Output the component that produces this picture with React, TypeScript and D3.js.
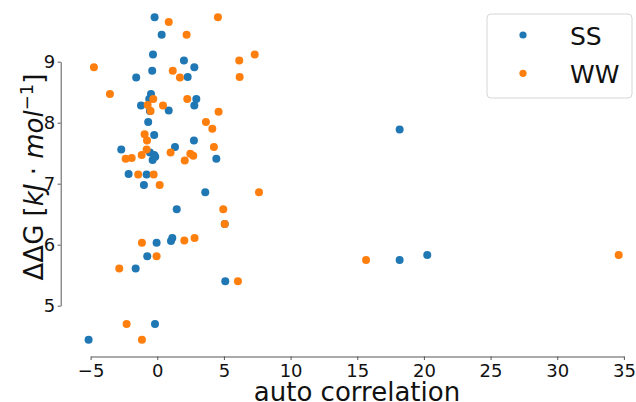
import * as d3 from 'd3';
import React, { useEffect, useRef } from 'react';

// SS series (auto correlation, ddG)
const ssX = [-0.2, 0.33, -0.32, 2.0, 2.78, -0.38, -1.58, 2.28, -0.47, -0.6, 2.93, -1.22, 2.78, -0.55, 0.86, -0.68, -0.23, 2.75, 1.33, -2.7, -0.55, -0.23, -0.35, -0.15, 4.43, -2.15, -0.8, -1.0, 3.6, 1.46, -0.05, 1.03, 1.13, -0.75, -1.62, 5.1, -0.17, -5.15, 18.18, 18.18, 20.25, 5.06];
const ssY = [9.73, 9.44, 9.12, 9.02, 8.91, 8.85, 8.74, 8.75, 8.47, 8.39, 8.39, 8.28, 8.28, 8.19, 8.2, 8.01, 7.8, 7.71, 7.6, 7.56, 7.51, 7.47, 7.39, 7.44, 7.41, 7.16, 7.15, 6.98, 6.86, 6.58, 6.03, 6.06, 6.11, 5.81, 5.61, 5.4, 4.7, 4.44, 7.89, 5.75, 5.83, 6.34];

// WW series
const wwX = [0.86, 4.55, 2.2, 7.31, 6.15, -4.75, 1.16, 1.7, 6.18, -3.55, -0.3, 2.25, -0.72, 0.43, -0.5, 4.6, 3.65, 4.13, -0.95, -0.77, 4.25, -0.8, 1.0, -1.17, 2.48, 2.7, -1.92, -2.37, 2.06, -1.43, -0.27, 0.18, 7.63, 4.95, 5.06, -1.15, 2.03, 2.8, -0.05, -2.85, 6.05, -2.3, -1.15, 15.66, 34.61];
const wwY = [9.65, 9.73, 9.44, 9.12, 9.02, 8.91, 8.85, 8.74, 8.75, 8.47, 8.39, 8.39, 8.29, 8.28, 8.19, 8.18, 8.01, 7.9, 7.81, 7.71, 7.6, 7.56, 7.51, 7.47, 7.49, 7.46, 7.42, 7.41, 7.38, 7.15, 7.15, 6.98, 6.86, 6.58, 6.34, 6.03, 6.07, 6.11, 5.81, 5.61, 5.4, 4.7, 4.44, 5.75, 5.83];

const xTicks = [-5, 0, 5, 10, 15, 20, 25, 30, 35];
const yTicks = [5, 6, 7, 8, 9];
const seriesNames = ['SS', 'WW'];
const seriesColors = ['#1f77b4', '#ff7f0e'];

const App = () => {
	const chartRef = useRef<SVGSVGElement>(null);

	useEffect(() => {
		const svg = d3.select(chartRef.current);
		svg.selectAll('*').remove();
		const font = 'DejaVu Sans';

		const x = d3.scaleLinear().domain([-5, 35]).range([90.6, 623.9]);
		const y = d3.scaleLinear().domain([5, 9]).range([305.7, 61.7]);

		// x axis (trimmed spine)
		const gx = svg.append('g')
			.attr('transform', 'translate(0,356.5)')
			.call(d3.axisBottom(x).tickValues(xTicks).tickSize(3.5).tickSizeOuter(0).tickPadding(4.5));
		gx.selectAll('text').attr('font-size', 18).attr('font-family', font).attr('fill', '#111');

		// y axis
		const gy = svg.append('g')
			.attr('transform', 'translate(60.7,0)')
			.call(d3.axisLeft(y).tickValues(yTicks).tickFormat(d3.format('d')).tickSize(3).tickSizeOuter(0).tickPadding(2.5));
		gy.selectAll('text').attr('font-size', 18).attr('font-family', font).attr('fill', '#111');

		svg.selectAll('.domain, .tick line').attr('stroke', '#444').attr('stroke-width', 0.9);

		// points
		const series = [
			ssX.map((v, i) => [v, ssY[i]]),
			wwX.map((v, i) => [v, wwY[i]]),
		];
		series.forEach((pts, k) => {
			svg.append('g')
				.selectAll('circle')
				.data(pts)
				.enter().append('circle')
				.attr('cx', d => x(d[0]))
				.attr('cy', d => y(d[1]))
				.attr('r', 4)
				.attr('fill', seriesColors[k]);
		});

		// axis labels
		svg.append('text')
			.text('auto correlation')
			.attr('x', 357)
			.attr('y', 401)
			.attr('text-anchor', 'middle')
			.attr('font-size', 26)
			.attr('font-family', font)
			.attr('fill', '#111');

		const yl = svg.append('text')
			.attr('transform', 'translate(43,177) rotate(-90)')
			.attr('text-anchor', 'middle')
			.attr('font-size', 26)
			.attr('font-family', font)
			.attr('fill', '#111');
		yl.append('tspan').text('ΔΔG [');
		yl.append('tspan').attr('font-style', 'italic').text('kJ');
		yl.append('tspan').text(' · ');
		yl.append('tspan').attr('font-style', 'italic').text('mol');
		yl.append('tspan').attr('dy', -10).attr('font-size', 18).text('−1');
		yl.append('tspan').attr('dy', 10).text(']');

		// legend
		const lg = svg.append('g');
		lg.append('rect')
			.attr('x', 487).attr('y', 14).attr('width', 145).attr('height', 84)
			.attr('rx', 4)
			.attr('fill', 'white').attr('fill-opacity', 0.8)
			.attr('stroke', '#d6d6d6').attr('stroke-width', 1);
		seriesNames.forEach((name, k) => {
			lg.append('circle')
				.attr('cx', 523).attr('cy', 35 + k * 38.3)
				.attr('r', 3.6)
				.attr('fill', seriesColors[k]);
			lg.append('text')
				.text(name)
				.attr('x', 570)
				.attr('y', 45 + k * 38.3)
				.attr('font-size', 25)
				.attr('font-family', font)
				.attr('fill', '#111');
		});
	}, []);

	return (
		<div style={{ position: 'absolute', left: 0, top: 0 }}>
			<svg ref={chartRef} width={636} height={402}></svg>
		</div>
	);
};

export default App;
